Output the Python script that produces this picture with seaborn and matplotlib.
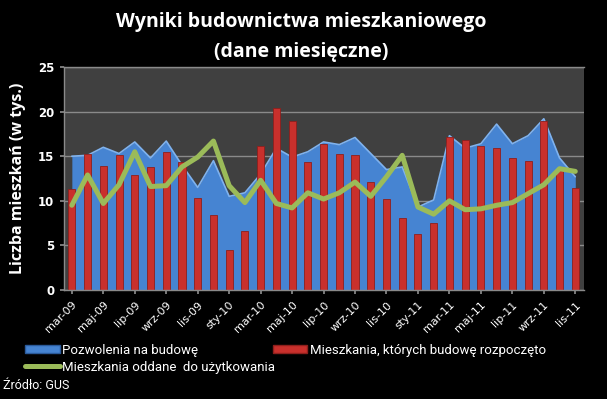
import numpy as np
import pandas as pd
import matplotlib
matplotlib.use("Agg")
import matplotlib.pyplot as plt
import seaborn as sns
from matplotlib.patches import Patch
from matplotlib.lines import Line2D
from matplotlib import font_manager

sns.set_theme(style="dark")
plt.rcParams['font.family'] = ['Open Sans', 'DejaVu Sans']

# narrow font for legend if available
installed = {f.name for f in font_manager.fontManager.ttflist}
NARROW = ['Liberation Sans Narrow'] if 'Liberation Sans Narrow' in installed else ['Roboto']

# -------------------------------
# Data (thousands of dwellings), mar-09 .. lis-11
# -------------------------------
month_names = ["sty", "lut", "mar", "kwi", "maj", "cze", "lip", "sie", "wrz", "paź", "lis", "gru"]
months = [f"{month_names[(m - 1) % 12]}-{9 + (m - 1) // 12:02d}" for m in range(3, 36)]

pozwolenia = [15.0, 15.1, 16.0, 15.3, 16.6, 14.8, 16.7, 14.0, 11.5, 14.5, 10.5,
              10.9, 13.0, 15.9, 14.9, 15.5, 16.6, 16.3, 17.1, 15.3, 13.5, 13.8,
              9.3, 10.1, 17.3, 15.9, 16.4, 18.6, 16.4, 17.3, 19.2, 14.8, 12.7]
rozpoczete = [11.3, 15.3, 13.9, 15.1, 12.9, 13.8, 15.5, 14.3, 10.3, 8.4, 4.5,
              6.6, 16.2, 20.4, 18.9, 14.4, 16.4, 15.2, 15.1, 12.1, 10.2, 8.1,
              6.3, 7.5, 17.2, 16.8, 16.2, 15.9, 14.8, 14.5, 18.9, 13.4, 11.4]
oddane = [9.5, 12.9, 9.7, 11.8, 15.5, 11.6, 11.7, 13.8, 14.9, 16.7, 11.7,
          9.8, 12.3, 9.7, 9.2, 10.9, 10.2, 10.9, 12.1, 10.5, 12.7, 15.1,
          9.3, 8.5, 10.0, 9.0, 9.1, 9.5, 9.8, 10.8, 11.8, 13.6, 13.3]

df = pd.DataFrame({"miesiac": months, "pozwolenia": pozwolenia,
                   "rozpoczete": rozpoczete, "oddane": oddane})
df["pos"] = np.arange(len(df))

BLUE = "#4684D2"
RED = "#C9302C"
GREEN = "#9BBB59"

fig = plt.figure(figsize=(6.07, 3.99), dpi=100, facecolor="black")
ax = fig.add_axes([0.1054, 0.2732, 0.8566, 0.5588])
ax.set_facecolor("#404040")

ax.yaxis.grid(True, color="#8a8a8a", linewidth=1.0)
ax.set_axisbelow(True)

ax.fill_between(df["pos"], df["pozwolenia"], color=BLUE, linewidth=0, zorder=1)
ax.plot(df["pos"], df["pozwolenia"], color="#7fb2ee", linewidth=1.2, zorder=1.5)

sns.barplot(data=df, x="pos", y="rozpoczete", color=RED, width=0.45,
            saturation=1, edgecolor="#8e1f1c", linewidth=0.6, ax=ax,
            native_scale=True, zorder=2)
sns.lineplot(data=df, x="pos", y="oddane", color=GREEN, linewidth=3.6, ax=ax,
             zorder=3)

ax.set_xlim(-0.5, 32.55)
ax.set_ylim(0, 25)
ax.set_yticks(range(0, 26, 5))
ax.set_xticks(df["pos"][::2])
ax.set_xticklabels(df["miesiac"][::2], rotation=45, ha="right",
                   rotation_mode="anchor", color="white", fontsize=8,
                   family="DejaVu Sans")
for lbl in ax.get_yticklabels():
    lbl.set_color("white")
    lbl.set_fontsize(8.5)
    lbl.set_fontweight("bold")
    lbl.set_family("DejaVu Sans")
ax.tick_params(axis="both", length=3, color="#8a8a8a", bottom=True, left=True, pad=4)
ax.set_xlabel("")
ax.set_ylabel("Liczba mieszkań (w tys.)", color="white", fontsize=11.5,
              fontweight="bold")
ax.yaxis.set_label_coords(-0.073, 0.5)
for side in ["left", "bottom", "top"]:
    ax.spines[side].set_color("#8a8a8a")
    ax.spines[side].set_linewidth(1.0)
ax.spines["right"].set_visible(False)

fig.text(0.497, 0.945, "Wyniki budownictwa mieszkaniowego", ha="center", va="center",
         color="white", fontsize=14, fontweight="bold")
fig.text(0.497, 0.87, "(dane miesięczne)", ha="center", va="center",
         color="white", fontsize=14, fontweight="bold")

leg_font = dict(family=NARROW + ['DejaVu Sans'], size=9.5)
leg1 = fig.legend([Patch(facecolor=BLUE, edgecolor="#2a5a9a"),
                   Line2D([0], [0], color=GREEN, linewidth=3.6)],
                  ["Pozwolenia na budowę", "Mieszkania oddane  do użytkowania"],
                  loc="upper left", bbox_to_anchor=(0.042, 0.138), frameon=False,
                  prop=leg_font, handlelength=2.6, handleheight=0.6,
                  handletextpad=0.2, labelspacing=0.3, borderaxespad=0,
                  borderpad=0)
leg2 = fig.legend([Patch(facecolor=RED, edgecolor="#8e1f1c")],
                  ["Mieszkania, których budowę rozpoczęto"],
                  loc="upper left", bbox_to_anchor=(0.450, 0.138), frameon=False,
                  prop=leg_font, handlelength=2.6, handleheight=0.6,
                  handletextpad=0.2, borderaxespad=0, borderpad=0)
for leg in (leg1, leg2):
    for t in leg.get_texts():
        t.set_color("white")

fig.text(0.005, 0.033, "Źródło: GUS", color="white", fontsize=9, va="center",
         family=NARROW + ['DejaVu Sans'])

fig.savefig("out.png", dpi=100, facecolor="black")
plt.close(fig)
